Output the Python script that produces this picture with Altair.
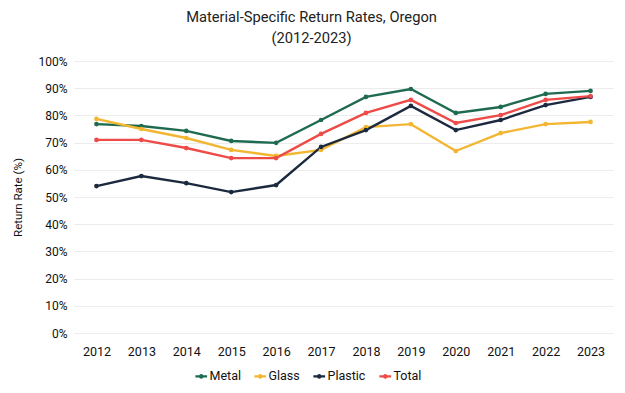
import altair as alt
import pandas as pd

years = ["2012", "2013", "2014", "2015", "2016", "2017", "2018", "2019", "2020", "2021", "2022", "2023"]
metal = [76.8, 76.1, 74.3, 70.6, 69.9, 78.3, 86.8, 89.7, 80.9, 83.1, 87.9, 89.0]
glass = [78.7, 75.0, 71.7, 67.3, 65.1, 67.3, 75.7, 76.8, 66.9, 73.5, 76.8, 77.6]
plastic = [54.0, 57.7, 55.1, 51.8, 54.4, 68.4, 74.6, 83.5, 74.6, 78.3, 83.8, 86.8]
total = [71.0, 71.0, 68.0, 64.3, 64.3, 73.2, 80.9, 85.7, 77.2, 80.1, 85.7, 87.1]

series = ["Metal", "Glass", "Plastic", "Total"]
colors = ["#1f6b50", "#f2b631", "#1b2a3e", "#ee4a47"]

rows = []
for name, vals in zip(series, [metal, glass, plastic, total]):
    for y, v in zip(years, vals):
        rows.append({"Year": y, "Series": name, "Rate": v / 100})
df = pd.DataFrame(rows)

FONT = "Roboto"
sym = "M-1.4,0L1.4,0M-0.3,0A0.3,0.3 0 1,1 0.3,0A0.3,0.3 0 1,1 -0.3,0Z"

x_enc = alt.X("Year:N", sort=years, title=None,
              scale=alt.Scale(type="point", padding=0.5),
              axis=alt.Axis(labelAngle=0, domain=False, ticks=False, grid=False,
                            labelFontSize=12.5, labelPadding=12, labelColor="#111",
                            labelFont=FONT))
y_enc = alt.Y("Rate:Q", title="Return Rate (%)",
              scale=alt.Scale(domain=[0, 1]),
              axis=alt.Axis(format="%", values=[i / 10 for i in range(11)],
                            domain=False, ticks=False, gridColor="#ececec",
                            labelFontSize=12, labelColor="#111", labelPadding=7,
                            labelFont=FONT, titleFont=FONT, titleFontSize=11.5,
                            titleFontWeight="normal", titleColor="#111",
                            titlePadding=14))
scale = alt.Scale(domain=series, range=colors)

base = alt.Chart(df)
lines = base.mark_line(strokeWidth=2.4).encode(
    x=x_enc, y=y_enc,
    color=alt.Color("Series:N", sort=series, scale=scale,
                    legend=alt.Legend(title=None, orient="none", direction="horizontal",
                                      legendX=121, legendY=309,
                                      symbolType=sym, symbolSize=70,
                                      symbolStrokeWidth=2.2,
                                      labelFontSize=12.5, labelFont=FONT,
                                      labelColor="#111", columnPadding=8,
                                      labelOffset=2)),
)
points = base.mark_circle(size=22, opacity=1).encode(
    x=x_enc, y=y_enc,
    color=alt.Color("Series:N", sort=series, scale=scale, legend=None),
)

chart = alt.layer(lines, points).properties(
    width=539,
    height=272,
    padding={"left": 66, "top": 53, "right": 4, "bottom": 52},
    autosize=alt.AutoSizeParams(type="none"),
    title=alt.TitleParams(
        text=["Material-Specific Return Rates, Oregon", "(2012-2023)"],
        font=FONT, fontSize=14.7, fontWeight="normal", color="#222",
        anchor="middle", dx=-32, offset=9, lineHeight=21,
    ),
).configure_view(stroke=None)

chart.save("out.html", embed_options={"renderer": "svg", "actions": False})
